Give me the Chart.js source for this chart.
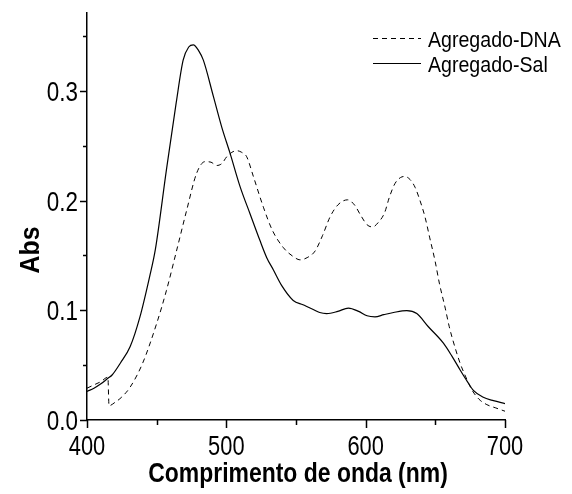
<!DOCTYPE html>
<html>
<head>
<meta charset="utf-8">
<script src="https://cdn.jsdelivr.net/npm/chart.js@4/dist/chart.umd.min.js"></script>
<style>
  html, body { margin: 0; padding: 0; background: #fff; }
</style>
</head>
<body>
<canvas id="chart" width="572" height="494"></canvas>
<script>
// wavelengths (nm) and absorbance
const dnaWave = [400, 405, 410, 415, 415.8, 420, 425, 431, 440, 450, 457, 465, 471.5, 478.7, 484.7, 489, 493, 497, 500.3, 507.4, 511, 514.6, 519.4, 526.6, 533, 541, 548, 553, 558, 563.7, 569, 574.4, 580, 587, 592, 596.7, 601, 605, 609, 613.6, 617, 621, 625, 628.1, 632, 635.5, 639, 642.6, 646, 649.8, 653, 657.1, 660, 664.4, 668, 671.6, 676, 681.3, 687, 693.4, 700];
const dnaAbs = [0.029, 0.032, 0.035, 0.039, 0.013, 0.016, 0.021, 0.030, 0.052, 0.088, 0.118, 0.158, 0.191, 0.225, 0.2355, 0.235, 0.232, 0.234, 0.240, 0.2455, 0.244, 0.240, 0.222, 0.194, 0.173, 0.157, 0.149, 0.146, 0.148, 0.154, 0.168, 0.185, 0.196, 0.2007, 0.196, 0.186, 0.178, 0.176, 0.180, 0.189, 0.203, 0.2155, 0.221, 0.222, 0.219, 0.212, 0.200, 0.185, 0.166, 0.145, 0.124, 0.102, 0.085, 0.065, 0.051, 0.040, 0.028, 0.019, 0.014, 0.011, 0.008];

const salWave = [400, 405, 410, 415, 418, 424, 431, 438, 445, 449, 457, 464, 469, 473, 476.3, 480, 483.5, 490.7, 496.7, 502.7, 509.8, 517, 524, 529, 533.7, 540, 548, 555, 562, 567, 572, 580, 587.6, 595, 601, 606.7, 613, 620, 629.5, 636.7, 645, 655.8, 662, 667.8, 673, 677.3, 684, 691.7, 700];
const salAbs = [0.026, 0.029, 0.033, 0.038, 0.041, 0.052, 0.067, 0.094, 0.131, 0.155, 0.228, 0.289, 0.328, 0.340, 0.342, 0.337, 0.328, 0.295, 0.267, 0.243, 0.213, 0.188, 0.164, 0.148, 0.137, 0.122, 0.109, 0.105, 0.101, 0.098, 0.097, 0.099, 0.102, 0.099, 0.095, 0.094, 0.096, 0.098, 0.0997, 0.097, 0.085, 0.070, 0.058, 0.0456, 0.035, 0.027, 0.021, 0.0176, 0.015];

const seriesNames = ["Agregado-DNA", "Agregado-Sal"];
const xTicks = [400, 500, 600, 700];
const xMinorTicks = [450, 550, 650];
const yTicks = [0, 0.1, 0.2, 0.3];
const yMinorTicks = [0.05, 0.15, 0.25, 0.35];
const xTitle = "Comprimento de onda (nm)";
const yTitle = "Abs";

const font = '"Liberation Sans", Arial, sans-serif';

function toPoints(xs, ys) {
  return xs.map((x, i) => ({ x: x, y: ys[i] }));
}

// the original font is a squeezed Arial, so text gets a horizontal scale
function squeezed(ctx, text, x, y, sx, align) {
  ctx.save();
  ctx.translate(x, y);
  ctx.scale(sx, 1);
  ctx.textAlign = align;
  ctx.fillText(text, 0, 0);
  ctx.restore();
}

// tick marks, tick labels, titles and legend
const extras = {
  id: "extras",
  afterDraw(chart) {
    const ctx = chart.ctx;
    const x = chart.scales.x, y = chart.scales.y;
    ctx.save();
    ctx.strokeStyle = "#000";
    ctx.lineWidth = 1.5;
    ctx.beginPath();
    xTicks.forEach(v => {
      const px = Math.round(x.getPixelForValue(v)) + 0.5;
      ctx.moveTo(px, x.top); ctx.lineTo(px, x.top + 8);
    });
    xMinorTicks.forEach(v => {
      const px = Math.round(x.getPixelForValue(v)) + 0.5;
      ctx.moveTo(px, x.top); ctx.lineTo(px, x.top + 5);
    });
    yTicks.forEach(v => {
      const py = Math.round(y.getPixelForValue(v)) + 0.5;
      ctx.moveTo(y.right, py); ctx.lineTo(y.right - 7, py);
    });
    yMinorTicks.forEach(v => {
      const py = Math.round(y.getPixelForValue(v)) + 0.5;
      ctx.moveTo(y.right, py); ctx.lineTo(y.right - 4, py);
    });
    ctx.stroke();

    ctx.fillStyle = "#000";
    ctx.textBaseline = "alphabetic";
    ctx.font = "28px " + font;
    xTicks.forEach(v => {
      squeezed(ctx, String(v), x.getPixelForValue(v), x.top + 35, 0.78, "center");
    });
    yTicks.forEach(v => {
      squeezed(ctx, v.toFixed(1), y.right - 9, y.getPixelForValue(v) + 10, 0.8, "right");
    });

    ctx.font = "bold 27px " + font;
    squeezed(ctx, xTitle, (x.left + x.right) / 2 + 2, x.top + 62, 0.85, "center");

    ctx.translate(39, 250);
    ctx.rotate(-Math.PI / 2);
    squeezed(ctx, yTitle, 0, 0, 0.92, "center");
    ctx.restore();

    // legend
    ctx.save();
    ctx.font = "22px " + font;
    ctx.fillStyle = "#000";
    ctx.textBaseline = "alphabetic";
    chart.data.datasets.forEach((ds, i) => {
      const ly = 38 + i * 25;
      ctx.strokeStyle = "#000";
      ctx.lineWidth = ds.borderWidth;
      ctx.setLineDash(ds.borderDash || []);
      ctx.beginPath();
      ctx.moveTo(373, ly + 0.5); ctx.lineTo(421, ly + 0.5);
      ctx.stroke();
      squeezed(ctx, ds.label, 428, ly + 9, 0.89, "left");
    });
    ctx.restore();
  }
};

new Chart(document.getElementById("chart"), {
  type: "line",
  data: {
    datasets: [
      {
        label: seriesNames[0],
        data: toPoints(dnaWave, dnaAbs),
        borderColor: "#000",
        borderWidth: 1,
        borderDash: [5, 4],
        pointRadius: 0,
        cubicInterpolationMode: "monotone",
        fill: false
      },
      {
        label: seriesNames[1],
        data: toPoints(salWave, salAbs),
        borderColor: "#000",
        borderWidth: 1.2,
        pointRadius: 0,
        cubicInterpolationMode: "monotone",
        fill: false
      }
    ]
  },
  options: {
    responsive: false,
    animation: false,
    layout: { padding: { top: 13, right: 67, left: 0, bottom: 0 } },
    plugins: {
      legend: { display: false },
      tooltip: { enabled: false }
    },
    scales: {
      x: {
        type: "linear",
        min: 400,
        max: 700,
        grid: { display: false, drawTicks: false },
        border: { display: true, color: "#000", width: 1.5 },
        ticks: { display: false, stepSize: 100 },
        afterFit(scale) { scale.height = 74; }
      },
      y: {
        min: 0,
        max: 0.371,
        grid: { display: false, drawTicks: false },
        border: { display: true, color: "#000", width: 1.5 },
        ticks: { display: false, stepSize: 0.1, includeBounds: false },
        afterFit(scale) { scale.width = 87; }
      }
    }
  },
  plugins: [extras]
});
</script>
</body>
</html>
